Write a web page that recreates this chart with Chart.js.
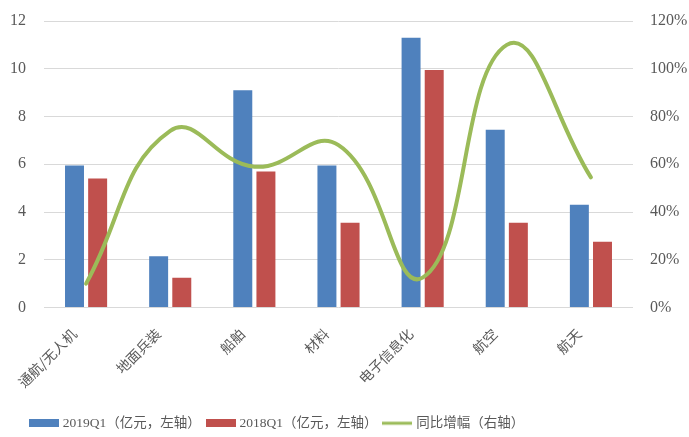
<!DOCTYPE html>
<html><head><meta charset="utf-8">
<script src="https://cdn.jsdelivr.net/npm/chart.js@4/dist/chart.umd.min.js"></script>
<style>html,body{margin:0;padding:0;background:#fff}#wrap{width:689px;height:437px}</style>
</head><body><div id="wrap"><canvas id="c"></canvas></div>
<script>
const categories = ["通航/无人机","地面兵装","船舶","材料","电子信息化","航空","航天"];
const q2019 = [5.95, 2.15, 9.1, 5.95, 11.3, 7.45, 4.3];
const q2018 = [5.4, 1.25, 5.7, 3.55, 9.95, 3.55, 2.75];
const growth = [0.10, 0.74, 0.59, 0.68, 0.125, 1.10, 0.545];
const leftTicks = [0, 2, 4, 6, 8, 10, 12];
const rightTicks = ["0%","20%","40%","60%","80%","100%","120%"];
const seriesNames = ["2019Q1（亿元，左轴）","2018Q1（亿元，左轴）","同比增幅（右轴）"];

const BLUE = "#4f81bd", RED = "#c0504d", GREEN = "#9bbb59";
function swatch(color, h) {
  const c = document.createElement("canvas");
  c.width = 30; c.height = 8;
  const x = c.getContext("2d");
  x.fillStyle = color;
  x.fillRect(0, (8 - h) / 2, 30, h);
  return c;
}
const swatches = [swatch(BLUE, 8), swatch(RED, 8), swatch(GREEN, 3)];
const SERIF = "'Liberation Serif','Noto Sans CJK SC',serif";

const shiftLegend = {
  id: "shiftLegend",
  afterLayout(chart) {
    if (chart.legend) { chart.legend.left += 24; chart.legend.right += 24; }
  }
};

new Chart(document.getElementById("c"), {
  data: {
    labels: categories,
    datasets: [
      {type: "bar", label: seriesNames[0], data: q2019, backgroundColor: BLUE, yAxisID: "y", order: 1,
       categoryPercentage: 0.55, barPercentage: 0.82},
      {type: "bar", label: seriesNames[1], data: q2018, backgroundColor: RED, yAxisID: "y", order: 1,
       categoryPercentage: 0.55, barPercentage: 0.82},
      {type: "line", label: seriesNames[2], data: growth, borderColor: GREEN, backgroundColor: GREEN,
       borderWidth: 4, pointRadius: 0, tension: 0.45, yAxisID: "y1", order: 0, borderCapStyle: "round"}
    ]
  },
  plugins: [shiftLegend],
  options: {
    responsive: true, maintainAspectRatio: false, animation: false,
    layout: {padding: {left: 0, right: 0, top: 21, bottom: -3}},
    plugins: {
      tooltip: {enabled: false},
      legend: {
        position: "bottom", align: "start",
        labels: {
          usePointStyle: true, pointStyleWidth: 24, boxHeight: 8, padding: 8,
          color: "#595959", font: {family: SERIF, size: 13.5},
          sort: (a, b) => a.datasetIndex - b.datasetIndex,
          generateLabels: (chart) => {
            const items = Chart.defaults.plugins.legend.labels.generateLabels(chart);
            items.forEach(it => { it.pointStyle = swatches[it.datasetIndex]; });
            return items;
          }
        }
      }
    },
    scales: {
      x: {
        offset: true,
        grid: {display: false},
        border: {display: false},
        afterFit: (s) => { s.paddingLeft = 0; s.paddingRight = 0; s.height = 101; },
        ticks: {color: "#595959", font: {family: "'Noto Sans CJK SC',sans-serif", size: 14},
                maxRotation: 45, minRotation: 45, autoSkip: false, labelOffset: -12, padding: 10}
      },
      y: {
        position: "left", min: 0, max: 12,
        afterBuildTicks: (s) => { s.ticks = leftTicks.map(v => ({value: v})); },
        afterFit: (s) => { s.width = 44; s.paddingTop = 0; s.paddingBottom = 0; },
        grid: {color: "#d9d9d9", lineWidth: 1, drawTicks: false},
        border: {display: false},
        ticks: {color: "#595959", font: {family: SERIF, size: 16}, padding: 18}
      },
      y1: {
        position: "right", min: 0, max: 1.2,
        afterBuildTicks: (s) => { s.ticks = rightTicks.map((t, i) => ({value: i * 0.2})); },
        afterFit: (s) => { s.width = 56; s.paddingTop = 0; s.paddingBottom = 0; },
        grid: {display: false, drawTicks: false},
        border: {display: false},
        ticks: {color: "#595959", font: {family: SERIF, size: 16}, padding: 17,
                callback: (v, i) => rightTicks[i]}
      }
    }
  }
});
</script></body></html>
